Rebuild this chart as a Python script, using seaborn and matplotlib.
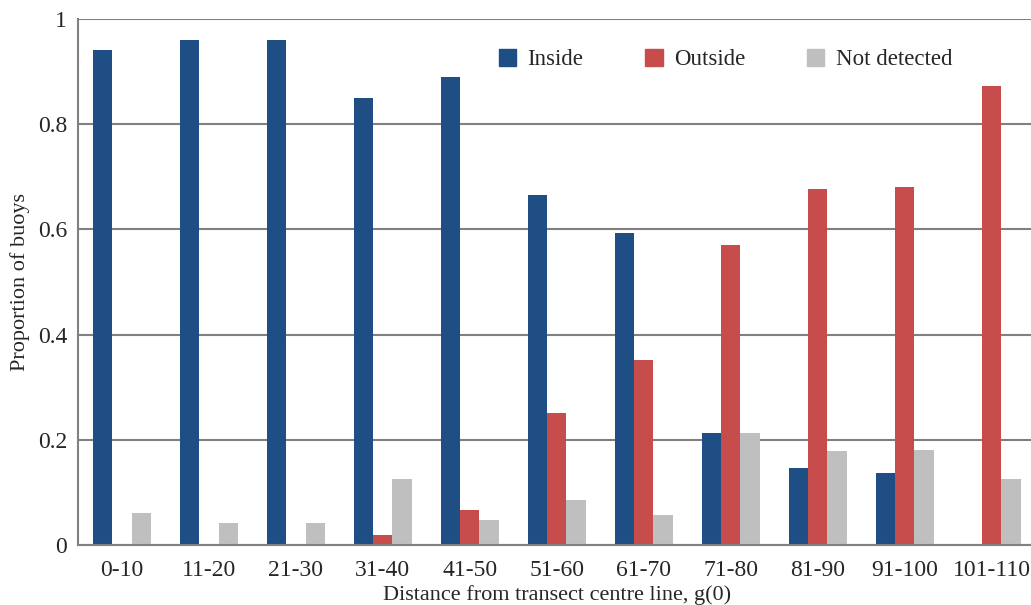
import numpy as np
import pandas as pd
import matplotlib.pyplot as plt
import seaborn as sns

# --- data ---
distance_bins = ['0-10', '11-20', '21-30', '31-40', '41-50', '51-60',
                 '61-70', '71-80', '81-90', '91-100', '101-110']
inside = [0.94, 0.96, 0.96, 0.85, 0.89, 0.665, 0.593, 0.213, 0.146, 0.137, 0.0]
outside = [0.0, 0.0, 0.0, 0.02, 0.066, 0.251, 0.352, 0.570, 0.676, 0.680, 0.873]
not_detected = [0.061, 0.042, 0.042, 0.126, 0.048, 0.086, 0.057, 0.213, 0.178, 0.181, 0.126]

series_names = ['Inside', 'Outside', 'Not detected']
series_colors = ['#1F4E85', '#C74C4C', '#BFBFBF']

df = pd.DataFrame({
    'bin': distance_bins * 3,
    'series': np.repeat(series_names, len(distance_bins)),
    'value': inside + outside + not_detected,
})

sns.set_style('white')
plt.rcParams['font.family'] = ['Liberation Serif', 'DejaVu Serif']

fig = plt.figure(figsize=(10.31, 6.05), dpi=100)
ax = fig.add_axes([0.076, 0.099, 0.928, 0.87])

sns.barplot(data=df, x='bin', y='value', hue='series', order=distance_bins,
            hue_order=series_names, palette=series_colors, width=0.67,
            saturation=1, linewidth=0, ax=ax, legend=False)

ax.set_ylim(0, 1)
ax.set_yticks([0, 0.2, 0.4, 0.6, 0.8, 1.0])
ax.set_yticklabels(['0', '0.2', '0.4', '0.6', '0.8', '1'])
ax.set_xlim(-0.5, len(distance_bins) - 0.5)
ax.yaxis.grid(True, color='#808080', linewidth=1.5)
ax.set_axisbelow(True)
for side in ['top', 'right']:
    ax.spines[side].set_visible(False)
for side in ['left', 'bottom']:
    ax.spines[side].set_color('#808080')
    ax.spines[side].set_linewidth(1.5)
ax.tick_params(axis='y', length=5, color='#808080', width=1.2, labelsize=17, pad=3)
ax.tick_params(axis='x', length=0, labelsize=17, pad=11)

ax.set_xlabel('Distance from transect centre line, g(0)', fontsize=16, labelpad=3)
ax.set_ylabel('Proportion of buoys', fontsize=16, labelpad=6)

handles = [plt.Rectangle((0, 0), 1, 1, color=c) for c in series_colors]
ax.legend(handles, series_names, loc='upper right', bbox_to_anchor=(0.935, 0.982),
          ncol=3, frameon=False, fontsize=16.5, handlelength=0.75, handleheight=0.75,
          handletextpad=0.5, columnspacing=2.7)

fig.savefig('out.png', dpi=100)
